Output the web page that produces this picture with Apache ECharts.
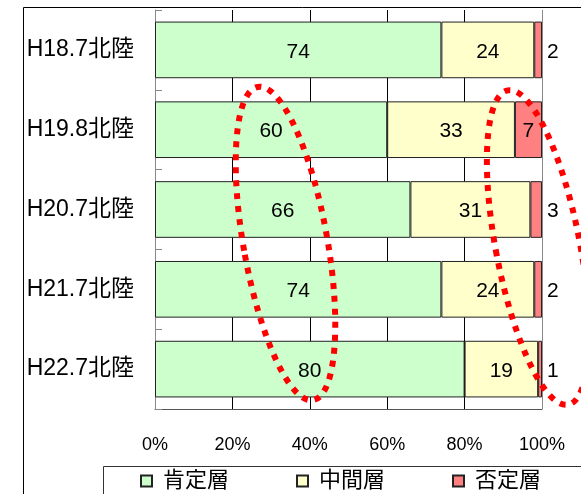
<!DOCTYPE html>
<html>
<head>
<meta charset="utf-8">
<script src="https://cdn.jsdelivr.net/npm/echarts@6/dist/echarts.min.js"></script>
<style>
  html, body { margin: 0; padding: 0; background: #fff; }
  #chart { width: 581px; height: 494px; }
</style>
</head>
<body>
<div id="chart"></div>
<script>
// Survey rows, top to bottom
const categories = ['H18.7北陸', 'H19.8北陸', 'H20.7北陸', 'H21.7北陸', 'H22.7北陸'];
// Share of each attitude group (%)
const positive = [74, 60, 66, 74, 80];
const neutral  = [24, 33, 31, 24, 19];
const negative = [2, 7, 3, 2, 1];
const seriesNames = ['肯定層', '中間層', '否定層'];
const axisTicks = [0, 20, 40, 60, 80, 100];

const FONT = "'Liberation Sans', 'Noto Sans CJK JP', sans-serif";
const colors = ['#CCFFCC', '#FFFFCC', '#FF8080'];

function barSeries(name, values, color, labelFor) {
  return {
    name: name,
    type: 'bar',
    stack: 'total',
    barCategoryGap: '29%',
    itemStyle: { color: color, borderColor: '#222', borderWidth: 1 },
    label: {
      show: true,
      position: 'inside',
      offset: [0, 2],
      color: '#000',
      fontFamily: FONT,
      fontSize: 21,
      formatter: '{c}'
    },
    data: values.map(v => labelFor ? { value: v, label: labelFor(v) } : v)
  };
}

const chart = echarts.init(document.getElementById('chart'));
chart.setOption({
  animation: false,
  backgroundColor: '#fff',
  grid: { left: 155, right: 39, top: 10, bottom: 85 },
  xAxis: {
    type: 'value',
    min: axisTicks[0],
    max: axisTicks[axisTicks.length - 1],
    interval: axisTicks[1] - axisTicks[0],
    axisLine: { show: true, lineStyle: { color: '#555', width: 1 } },
    axisTick: { show: false },
    axisLabel: {
      formatter: '{value}%',
      color: '#000',
      fontFamily: FONT,
      fontSize: 18,
      margin: 27
    },
    splitLine: {
      show: true,
      lineStyle: { color: ['#888', '#000', '#000', '#000', '#000', '#888'], width: 1 }
    }
  },
  yAxis: {
    type: 'category',
    inverse: true,
    data: categories,
    axisLine: { show: true, lineStyle: { color: '#888', width: 1 } },
    axisTick: { show: true, inside: true, length: 7, lineStyle: { color: '#888' } },
    axisLabel: {
      color: '#000',
      fontFamily: FONT,
      fontSize: 23,
      margin: 21,
      padding: [6, 0, 0, 0]
    }
  },
  legend: {
    left: 140,
    top: 470,
    padding: 0,
    itemWidth: 11,
    itemHeight: 11,
    itemGap: 67,
    icon: 'rect',
    textStyle: {
      color: '#000',
      fontFamily: FONT,
      fontSize: 22,
      padding: [0, 0, 0, 6]
    },
    data: seriesNames
  },
  series: [
    barSeries(seriesNames[0], positive, colors[0]),
    barSeries(seriesNames[1], neutral, colors[1]),
    barSeries(seriesNames[2], negative, colors[2], v =>
      v >= 5 ? { position: 'inside' } : { position: 'right', distance: 5 })
  ],
  graphic: [
    // outer chart frame
    {
      type: 'rect', z: 0, silent: true,
      shape: { x: 23.5, y: 7.5, width: 700, height: 700 },
      style: { fill: 'none', stroke: '#000', lineWidth: 1 }
    },
    // legend frame
    {
      type: 'rect', z: 0, silent: true,
      shape: { x: 103.5, y: 466.5, width: 600, height: 100 },
      style: { fill: 'none', stroke: '#333', lineWidth: 1 }
    },
    // dotted highlight around the positive shares
    {
      type: 'ellipse', z: 100, silent: true,
      x: 285.5, y: 243.5, rotation: 0.175,
      shape: { cx: 0, cy: 0, rx: 42, ry: 159 },
      style: { fill: 'none', stroke: '#FF0000', lineWidth: 6, lineDash: [6, 7], lineCap: 'butt' }
    },
    // dotted highlight around the negative shares
    {
      type: 'ellipse', z: 100, silent: true,
      x: 538, y: 247.5, rotation: 0.19,
      shape: { cx: 0, cy: 0, rx: 42, ry: 160 },
      style: { fill: 'none', stroke: '#FF0000', lineWidth: 6, lineDash: [6, 7], lineCap: 'butt' }
    }
  ]
});
</script>
</body>
</html>
